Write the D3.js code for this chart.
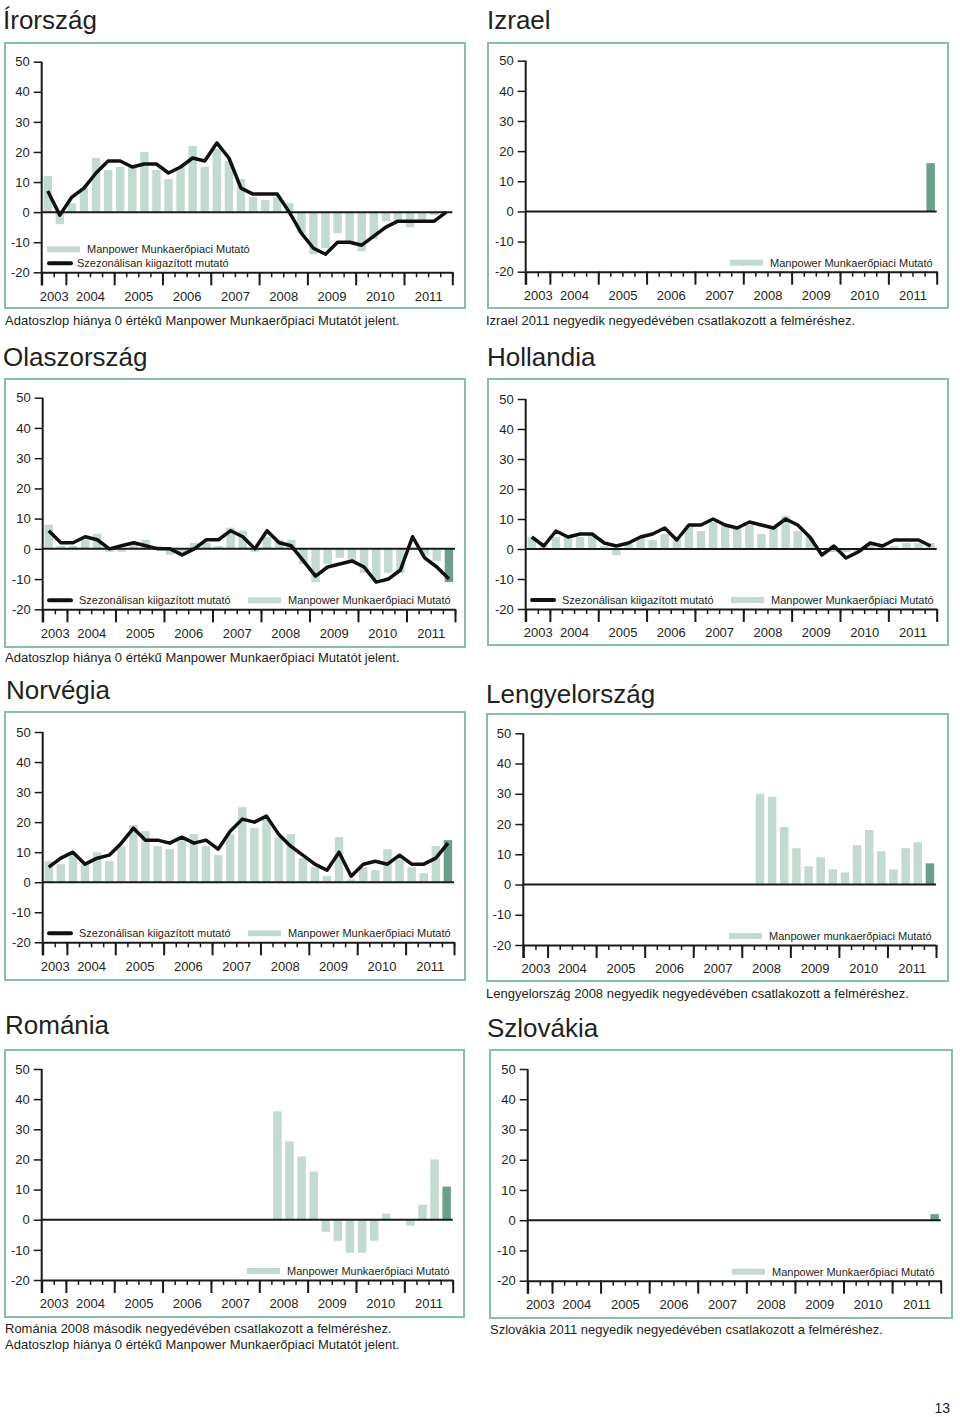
<!DOCTYPE html>
<html><head><meta charset="utf-8">
<script src="https://cdn.jsdelivr.net/npm/d3@7"></script>
<style>
body{margin:0;background:#fff;}
svg text{font-family:"Liberation Sans",Arial,sans-serif;fill:#231f20;}
</style>
</head><body>
<svg id="chart" width="960" height="1417"></svg>
<script>
// ---------- data ----------
const quarters = ["2003Q3","2003Q4",
 "2004Q1","2004Q2","2004Q3","2004Q4","2005Q1","2005Q2","2005Q3","2005Q4",
 "2006Q1","2006Q2","2006Q3","2006Q4","2007Q1","2007Q2","2007Q3","2007Q4",
 "2008Q1","2008Q2","2008Q3","2008Q4","2009Q1","2009Q2","2009Q3","2009Q4",
 "2010Q1","2010Q2","2010Q3","2010Q4","2011Q1","2011Q2","2011Q3","2011Q4"];
const years = ["2003","2004","2005","2006","2007","2008","2009","2010","2011"];
const yTicks = [-20,-10,0,10,20,30,40,50];
const _ = null;

const irorszagBars = [12,-4,3,8,18,14,15,15,20,14,11,15,22,15,21,17,11,5,4,5,3,-7,-14,-12,-7,-10,-13,-9,-3,-3,-5,-3,-1,0];
const irorszagLine = [7,-1,5,8,13,17,17,15,16,16,13,15,18,17,23,18,8,6,6,6,0,-7,-12,-14,-10,-10,-11,-8,-5,-3,-3,-3,-3,0];

const izraelBars = [_,_,_,_,_,_,_,_,_,_,_,_,_,_,_,_,_,_,_,_,_,_,_,_,_,_,_,_,_,_,_,_,_,16];

const olaszBars = [8,1,1,3,5,-1,-1,2,3,1,-2,-1,2,2,1,7,6,-1,4,3,3,-5,-11,-5,-3,-4,-8,-10,-8,-8,0,-2,-4,-11];
const olaszLine = [6,2,2,4,3,0,1,2,1,0,0,-2,0,3,3,6,4,0,6,2,1,-4,-9,-6,-5,-4,-6,-11,-10,-7,4,-3,-6,-10];

const hollandBars = [4,1,4,4,4,5,1,-2,2,4,3,5,3,8,6,9,8,7,8,5,7,11,6,4,0,-1,-1,-1,2,1,1,2,2,2];
const hollandLine = [4,1,6,4,5,5,2,1,2,4,5,7,3,8,8,10,8,7,9,8,7,10,8,4,-2,1,-3,-1,2,1,3,3,3,1];

const norvegBars = [7,6,9,6,10,7,12,19,17,12,11,14,16,12,9,16,25,18,21,15,16,8,5,2,15,1,5,4,11,8,5,3,12,14];
const norvegLine = [5,8,10,6,8,9,13,18,14,14,13,15,13,14,11,17,21,20,22,16,12,9,6,4,10,2,6,7,6,9,6,6,8,13];

const lengyelBars = [_,_,_,_,_,_,_,_,_,_,_,_,_,_,_,_,_,_,_,30,29,19,12,6,9,5,4,13,18,11,5,12,14,7];

const romaniaBars = [_,_,_,_,_,_,_,_,_,_,_,_,_,_,_,_,_,_,_,36,26,21,16,-4,-7,-11,-11,-7,2,0,-2,5,20,11];

const szlovakBars = [_,_,_,_,_,_,_,_,_,_,_,_,_,_,_,_,_,_,_,_,_,_,_,_,_,_,_,_,_,_,_,_,_,2];

const barLabel = "Manpower Munkaerőpiaci Mutató";
const barLabelLower = "Manpower munkaerőpiaci Mutató";
const lineLabel = "Szezonálisan kiigazított mutató";
const noteMissing = "Adatoszlop hiánya 0 értékű Manpower Munkaerőpiaci Mutatót jelent.";

// ---------- layout ----------
const panels = [
 {title:"Írország", bars:irorszagBars, line:irorszagLine, dark:false,
  box:[5,43,460,265], plot:[36.7,18.7,447.3,229.3], tpos:[3,29], legend:"stack", barText:barLabel,
  notes:[[5,325,noteMissing]]},
 {title:"Izrael", bars:izraelBars, line:null, dark:true,
  box:[488,43,460,265], plot:[37.7,17.7,448.7,228.7], tpos:[487,29], legend:"bar", barText:barLabel,
  notes:[[486,325,"Izrael 2011 negyedik negyedévében csatlakozott a felméréshez."]]},
 {title:"Olaszország", bars:olaszBars, line:olaszLine, dark:true,
  box:[5,379,460,268], plot:[37.7,18.7,450,230.3], tpos:[3,366], legend:"row", barText:barLabel,
  notes:[[5,662,noteMissing]]},
 {title:"Hollandia", bars:hollandBars, line:hollandLine, dark:false,
  box:[488,379,460,266], plot:[37.7,20,448.7,230], tpos:[487,366], legend:"row", barText:barLabel,
  notes:[]},
 {title:"Norvégia", bars:norvegBars, line:norvegLine, dark:true,
  box:[5,712,460,268], plot:[37.7,20,449,230.3], tpos:[6,699], legend:"row", barText:barLabel,
  notes:[]},
 {title:"Lengyelország", bars:lengyelBars, line:null, dark:true,
  box:[487,714,461,267], plot:[36.3,19.3,449,231], tpos:[486,703], legend:"bar", barText:barLabelLower,
  notes:[[486,998,"Lengyelország 2008 negyedik negyedévében csatlakozott a felméréshez."]]},
 {title:"Románia", bars:romaniaBars, line:null, dark:true,
  box:[5,1050,459,267], plot:[36.7,19,447.7,230], tpos:[5,1034], legend:"bar", barText:barLabel,
  notes:[[5,1333,"Románia 2008 második negyedévében csatlakozott a felméréshez."],[5,1349,noteMissing]]},
 {title:"Szlovákia", bars:szlovakBars, line:null, dark:true,
  box:[490,1050,462,268], plot:[37.7,19,450.7,230.7], tpos:[487,1037], legend:"bar", barText:barLabel,
  notes:[[490,1334,"Szlovákia 2011 negyedik negyedévében csatlakozott a felméréshez."]]}
];

const C = {light:"#c3dad0", dark:"#6b9f8a", border:"#8fbcaa", ink:"#1a1a1a"};
const svg = d3.select("#chart");

const yearStart = years.map(y => quarters.findIndex(q => q.startsWith(y)));
const yearEnd = years.map((y,i) => i < years.length-1 ? yearStart[i+1] : quarters.length);

panels.forEach(p => {
  const [bx,by,bw,bh] = p.box;
  const [px0,py0,px1,py1] = p.plot;
  const x0 = bx+px0, x1 = bx+px1, yTop = by+py0, yBot = by+py1;

  svg.append("text").attr("x",p.tpos[0]).attr("y",p.tpos[1])
    .attr("font-size",26).text(p.title);

  svg.append("rect").attr("x",bx).attr("y",by).attr("width",bw).attr("height",bh)
    .attr("fill","none").attr("stroke",C.border).attr("stroke-width",2);

  const g = svg.append("g");
  const y = d3.scaleLinear().domain([-20,50]).range([yBot,yTop]);
  const xq = d3.scaleLinear().domain([0,quarters.length]).range([x0,x1]);
  const xb = d3.scaleBand().domain(quarters).range([x0,x1]).paddingInner(0.3).paddingOuter(0.15);

  const bd = p.bars.map((v,i)=>({q:quarters[i],v,i})).filter(d=>d.v!=null && d.v!==0);
  g.selectAll("rect.bar").data(bd).join("rect").attr("class","bar")
    .attr("x",d=>xb(d.q)).attr("width",xb.bandwidth())
    .attr("y",d=>y(Math.max(0,d.v))).attr("height",d=>Math.abs(y(d.v)-y(0)))
    .attr("fill",d=> (p.dark && d.i===quarters.length-1) ? C.dark : C.light);

  g.append("line").attr("x1",x0).attr("x2",x1).attr("y1",y(0)).attr("y2",y(0))
    .attr("stroke",C.ink).attr("stroke-width",2);

  const ya = g.append("g").attr("transform",`translate(${x0},0)`)
    .call(d3.axisLeft(y).tickValues(yTicks).tickSize(8).tickPadding(4).tickSizeOuter(0).tickFormat(d=>String(d)));
  ya.select(".domain").remove();
  ya.selectAll(".tick line").attr("stroke",C.ink).attr("stroke-width",1.5);
  ya.selectAll("text").attr("font-size",13).attr("font-family","Liberation Sans, Arial, sans-serif").attr("fill","#231f20");
  g.append("line").attr("x1",x0).attr("x2",x0).attr("y1",yTop).attr("y2",yBot+13)
    .attr("stroke",C.ink).attr("stroke-width",2);

  const minor = g.append("g").attr("transform",`translate(0,${yBot})`)
    .call(d3.axisBottom(xq).tickValues(d3.range(0,quarters.length+1)).tickSize(5).tickSizeOuter(0).tickFormat(""));
  minor.select(".domain").attr("stroke",C.ink).attr("stroke-width",2);
  minor.selectAll(".tick line").attr("stroke",C.ink).attr("stroke-width",1.5);
  const major = g.append("g").attr("transform",`translate(0,${yBot})`)
    .call(d3.axisBottom(xq).tickValues([...yearStart, quarters.length]).tickSize(13).tickSizeOuter(0).tickFormat(""));
  major.select(".domain").remove();
  major.selectAll(".tick line").attr("stroke",C.ink).attr("stroke-width",2);
  const ym = years.map((yr,i)=>(yearStart[i]+yearEnd[i])/2);
  const lab = g.append("g").attr("transform",`translate(0,${yBot})`)
    .call(d3.axisBottom(xq).tickValues(ym).tickSize(0).tickPadding(19).tickFormat((d,i)=>years[i]));
  lab.select(".domain").remove();
  lab.selectAll("text").attr("font-size",13).attr("font-family","Liberation Sans, Arial, sans-serif").attr("fill","#231f20");

  if (p.line) {
    const line = d3.line().defined(d=>d!=null).x((d,i)=>xq(i+0.5)).y(d=>y(d));
    g.append("path").datum(p.line).attr("d",line).attr("fill","none")
      .attr("stroke","#111").attr("stroke-width",3.5).attr("stroke-linejoin","round");
  }

  const ly = yBot - 9;
  const barSw = (sx, syy, tx) => {
    g.append("rect").attr("x",bx+sx).attr("y",syy-3).attr("width",33).attr("height",6).attr("fill",C.light);
    g.append("text").attr("x",bx+tx).attr("y",syy).attr("dy","0.35em").attr("font-size",11).text(p.barText);
  };
  const lineSw = (sx, syy, tx) => {
    g.append("line").attr("x1",bx+sx).attr("x2",bx+sx+22).attr("y1",syy).attr("y2",syy)
      .attr("stroke","#111").attr("stroke-width",4).attr("stroke-linecap","round");
    g.append("text").attr("x",bx+tx).attr("y",syy).attr("dy","0.35em").attr("font-size",11).text(lineLabel);
  };
  if (p.legend === "stack") { barSw(42, yBot-23, 82); lineSw(44, ly, 72); }
  else if (p.legend === "row") { lineSw(44, ly, 74); barSw(243, ly, 283); }
  else { barSw(242, ly, 282); }

  p.notes.forEach(n => svg.append("text").attr("x",n[0]).attr("y",n[1]).attr("font-size",13).text(n[2]));
});

svg.append("text").attr("x",950).attr("y",1413).attr("text-anchor","end").attr("font-size",14).text("13");
</script>
</body></html>
